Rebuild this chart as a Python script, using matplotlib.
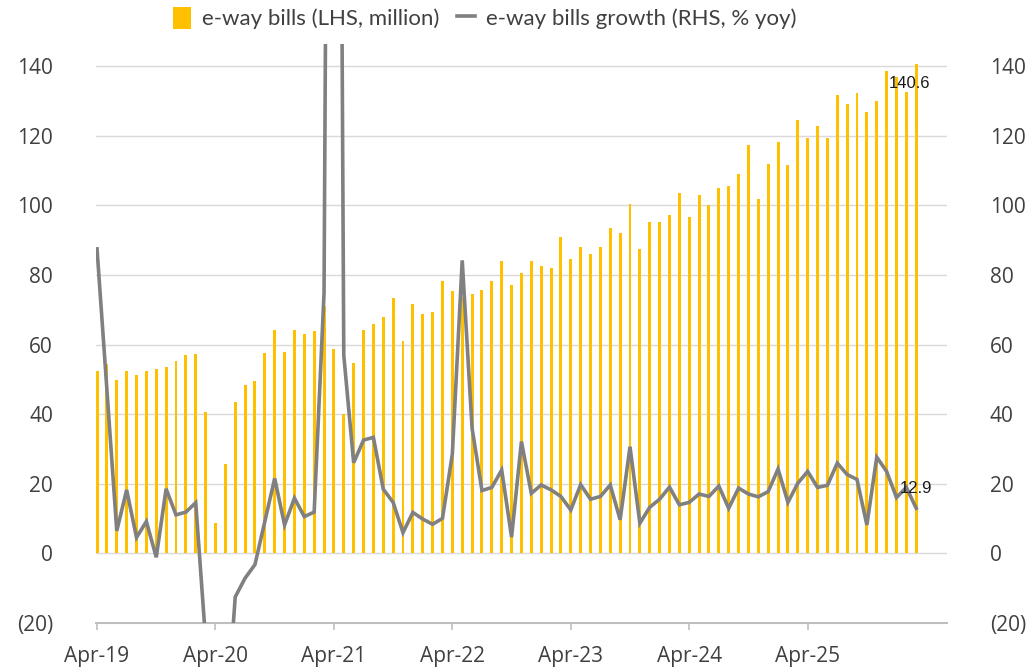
import matplotlib
matplotlib.use("Agg")
import matplotlib.pyplot as plt
from matplotlib.lines import Line2D
from matplotlib.patches import Patch
from matplotlib.ticker import FuncFormatter

# monthly data, Apr-19 .. Mar-26
bills = [52.5, 54.3, 49.8, 52.3, 51.2, 52.5, 52.9, 53.4, 55.4, 56.9, 57.3, 40.6,
         8.6, 25.6, 43.4, 48.4, 49.5, 57.5, 64.2, 57.9, 64.2, 63.0, 63.9, 71.2,
         58.8, 40.0, 54.6, 64.2, 65.9, 67.9, 73.5, 61.1, 71.7, 68.9, 69.3, 78.3,
         75.3, 73.6, 74.6, 75.7, 78.3, 84.0, 77.0, 80.7, 84.1, 82.6, 81.9, 90.9,
         84.5, 88.1, 86.0, 87.9, 93.5, 92.1, 100.4, 87.6, 95.2, 95.2, 97.2, 103.5,
         96.7, 103.1, 100.1, 104.9, 105.6, 109.0, 117.3, 101.9, 111.9, 118.3, 111.6, 124.5,
         119.4, 122.8, 119.5, 131.9, 129.3, 132.2, 126.8, 130.0, 138.7, 137.0, 132.6, 140.6]

growth = [87.5, 47.0, 6.4, 18.2, 4.5, 9.1, -1.2, 18.5, 11.0, 11.8, 14.5, -25.0,
          -83.6, -52.9, -12.6, -7.2, -3.3, 9.1, 21.5, 8.1, 15.8, 10.5, 11.8, 74.8,
          584.0, 56.9, 26.0, 32.5, 33.3, 18.4, 14.6, 5.9, 11.7, 9.8, 8.3, 10.0,
          28.5, 84.2, 35.9, 18.0, 18.9, 23.9, 4.6, 32.1, 17.2, 19.6, 18.2, 16.3,
          12.4, 19.7, 15.5, 16.3, 19.6, 9.6, 30.6, 8.6, 13.2, 15.5, 19.0, 13.9,
          14.6, 17.0, 16.3, 19.3, 12.9, 18.7, 17.0, 16.2, 17.7, 24.2, 14.6, 20.1,
          23.5, 18.9, 19.5, 25.9, 22.6, 21.2, 8.1, 27.6, 23.5, 16.0, 18.9, 12.9]

tick_labels = ['Apr-19', 'Apr-20', 'Apr-21', 'Apr-22', 'Apr-23', 'Apr-24', 'Apr-25']
x = list(range(len(bills)))

gold = '#FFC000'
grey = '#808080'
txt = '#404040'

plt.rcParams['font.family'] = ['Open Sans', 'DejaVu Sans']

fig = plt.figure(figsize=(10.35, 6.72), dpi=100)
ax = fig.add_axes([0.0928, 0.0734, 0.822, 0.861])

ax.bar(x, bills, width=0.3, color=gold, zorder=2)
ax.set_xlim(-0.1, 86.1)
ax.set_ylim(-20, 146.4)
ax.set_yticks(range(-20, 141, 20))

fmt = FuncFormatter(lambda v, p: f'({abs(int(v))})' if v < 0 else f'{int(v)}')
ax.yaxis.set_major_formatter(fmt)
for v in range(0, 141, 20):
    ax.axhline(v, color='#D9D9D9', lw=1.0, zorder=1)

ax.set_xticks(x[::12])
ax.set_xticklabels(tick_labels)
for s in ['top', 'left', 'right']:
    ax.spines[s].set_visible(False)
ax.spines['bottom'].set_color('#BFBFBF')
ax.spines['bottom'].set_linewidth(1.5)
ax.tick_params(axis='x', length=5, width=1.2, color='#BFBFBF', pad=12,
               labelsize=15, labelcolor=txt)
ax.tick_params(axis='y', length=0, pad=31, labelsize=15, labelcolor=txt)

ax2 = ax.twinx()
ax2.plot(x, growth, color=grey, lw=2.6, solid_joinstyle='miter', zorder=3)
ax2.set_ylim(-20, 146.4)
ax2.set_yticks(range(-20, 141, 20))
ax2.yaxis.set_major_formatter(fmt)
for s in ['top', 'left', 'right', 'bottom']:
    ax2.spines[s].set_visible(False)
ax2.tick_params(axis='y', length=0, pad=31, labelsize=15, labelcolor=txt)

ax.annotate(f'{bills[-1]}', (x[-1], bills[-1]), xytext=(-5, -14),
            textcoords='offset points', ha='center', va='center',
            fontsize=12, family='Liberation Sans', color='#1a1a1a', zorder=5)
ax2.annotate(f'{growth[-1]}', (x[-1], growth[-1]), xytext=(0, 14),
             textcoords='offset points', ha='center', va='center',
             fontsize=12, family='Liberation Sans', color='#1a1a1a', zorder=5)

handles = [Patch(facecolor=gold, edgecolor='none'),
           Line2D([0], [0], color=grey, lw=2.6)]
fig.legend(handles, ['e-way bills (LHS, million)', 'e-way bills growth (RHS, % yoy)'],
           loc='center', bbox_to_anchor=(485 / 1035, 1 - 18 / 672), ncol=2,
           frameon=False, handlelength=0.8, handleheight=1.2, handletextpad=0.5,
           columnspacing=0.8, prop={'family': 'Lato', 'size': 16}, labelcolor=txt)

fig.savefig('out.png', dpi=100)
